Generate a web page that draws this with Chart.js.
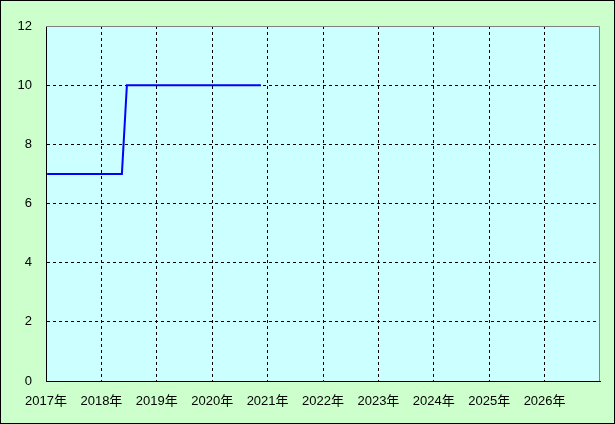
<!DOCTYPE html>
<html>
<head>
<meta charset="utf-8">
<script src="https://cdn.jsdelivr.net/npm/chart.js@4"></script>
<style>
  body { margin: 0; background: #ffffff; }
  canvas { display: block; }
</style>
</head>
<body>
<canvas id="chart" width="615" height="424"></canvas>
<script>
// Values (x in decimal years)
const years = [2017.02, 2018.37, 2018.46, 2020.88];
const values = [7, 7, 10, 10];
const xTickYears = [2017, 2018, 2019, 2020, 2021, 2022, 2023, 2024, 2025, 2026, 2027];
const yTicks = [0, 2, 4, 6, 8, 10, 12];

const FONT = "'Liberation Sans', 'Noto Sans CJK JP', sans-serif";

// Backgrounds and the gray top/right frame of the plot
const framePlugin = {
  id: "frame",
  beforeDraw(chart) {
    const ctx = chart.ctx;
    const a = chart.chartArea;
    ctx.save();
    ctx.fillStyle = "#ccffcc";
    ctx.fillRect(0, 0, chart.width, chart.height);
    ctx.fillStyle = "#ccffff";
    ctx.fillRect(a.left, a.top, a.right - a.left, a.bottom - a.top);
    ctx.restore();
  },
  afterDraw(chart) {
    const ctx = chart.ctx;
    const a = chart.chartArea;
    ctx.save();
    ctx.strokeStyle = "#808080";
    ctx.lineWidth = 1;
    ctx.beginPath();
    ctx.moveTo(a.left, a.top + 0.5);
    ctx.lineTo(a.right - 0.5, a.top + 0.5);
    ctx.lineTo(a.right - 0.5, a.bottom);
    ctx.stroke();
    ctx.strokeStyle = "#000000";
    ctx.strokeRect(0.5, 0.5, chart.width - 1, chart.height - 1);
    ctx.restore();
  },
};

new Chart(document.getElementById("chart"), {
  type: "line",
  data: {
    datasets: [
      {
        data: years.map((y, i) => ({ x: y, y: values[i] })),
        borderColor: "#0000ff",
        borderWidth: 2,
        pointRadius: 0,
        tension: 0,
        fill: false,
      },
    ],
  },
  options: {
    responsive: false,
    animation: false,
    layout: { padding: { top: 26, right: 15, left: 0, bottom: 0 } },
    plugins: { legend: { display: false }, tooltip: { enabled: false } },
    scales: {
      x: {
        type: "linear",
        min: 2017,
        max: 2027,
        afterBuildTicks: (scale) => {
          scale.ticks = xTickYears.map((v) => ({ value: v }));
        },
        afterFit: (scale) => {
          scale.height = 43;
        },
        ticks: {
          color: "#000000",
          font: { family: FONT, size: 13 },
          padding: 13,
          maxRotation: 0,
          autoSkip: false,
          callback: (v) => (v === 2027 ? "" : v + "年"),
        },
        grid: {
          drawTicks: false,
          color: (c) =>
            c.tick && (c.tick.value === 2017 || c.tick.value === 2027)
              ? "rgba(0,0,0,0)"
              : "#000000",
          lineWidth: 1,
        },
        border: { display: true, color: "#000000", width: 1, dash: [3, 3] },
      },
      y: {
        min: 0,
        max: 12,
        afterBuildTicks: (scale) => {
          scale.ticks = yTicks.map((v) => ({ value: v }));
        },
        afterFit: (scale) => {
          scale.width = 46;
        },
        ticks: {
          color: "#000000",
          font: { family: FONT, size: 13 },
          padding: 14,
        },
        grid: {
          drawTicks: false,
          color: (c) =>
            c.tick && (c.tick.value === 0 || c.tick.value === 12)
              ? "rgba(0,0,0,0)"
              : "#000000",
          lineWidth: 1,
        },
        border: { display: true, color: "#000000", width: 1, dash: [3, 3] },
      },
    },
  },
  plugins: [framePlugin],
});
</script>
</body>
</html>
